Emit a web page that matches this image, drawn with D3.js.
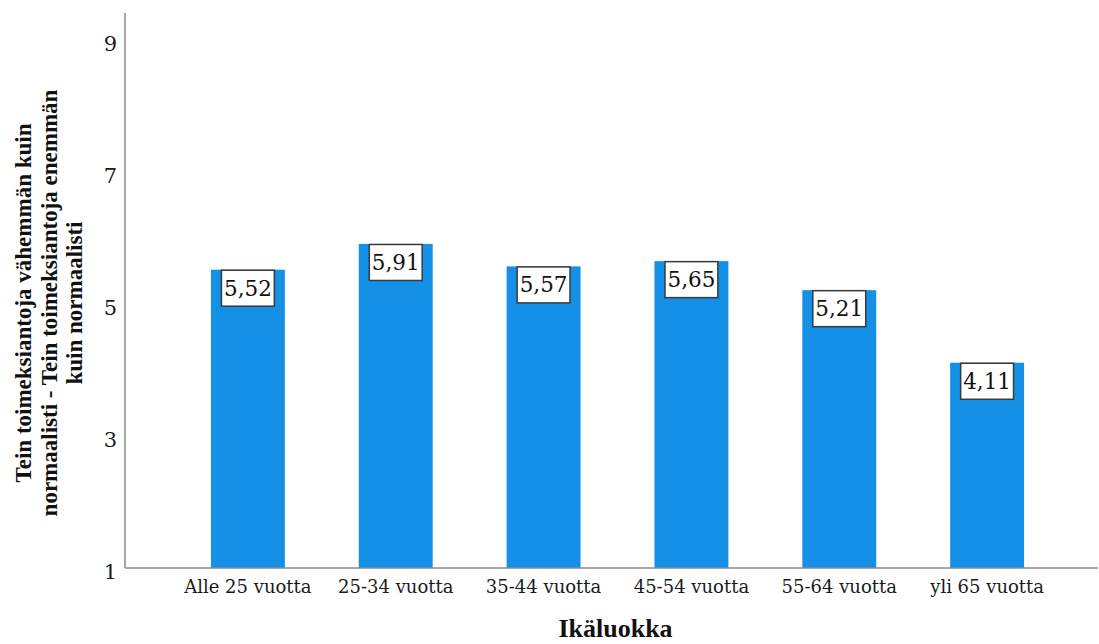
<!DOCTYPE html>
<html>
<head>
<meta charset="utf-8">
<script src="https://cdn.jsdelivr.net/npm/d3@7"></script>
<style>
  html, body { margin: 0; padding: 0; background: #ffffff; }
  svg { display: block; }
</style>
</head>
<body>
<svg id="chart" width="1099" height="644"></svg>
<script>
// Age groups and their mean scores
const categories = ["Alle 25 vuotta", "25-34 vuotta", "35-44 vuotta", "45-54 vuotta", "55-64 vuotta", "yli 65 vuotta"];
const values = [5.52, 5.91, 5.57, 5.65, 5.21, 4.11];
const yTicks = [1, 3, 5, 7, 9];
const yTitleLines = ["Tein toimeksiantoja vähemmän kuin", "normaalisti - Tein toimeksiantoja enemmän", "kuin normaalisti"];
const xTitle = "Ikäluokka";

const svg = d3.select("#chart");
const plotLeft = 125, plotRight = 1098, plotTop = 13, plotBottom = 568;

const fi = d3.formatLocale({ decimal: ",", thousands: " ", grouping: [3], currency: ["", " €"] });
const fmt = fi.format(".2f");

const x = d3.scaleBand()
  .domain(categories)
  .range([137, plotRight])
  .paddingInner(0.5)
  .paddingOuter(0.5);

const y = d3.scaleLinear()
  .domain([1, 9.41])
  .range([plotBottom, plotTop]);

// Bars
svg.append("g")
  .selectAll("rect")
  .data(values)
  .join("rect")
  .attr("x", (d, i) => x(categories[i]))
  .attr("y", d => y(d))
  .attr("width", x.bandwidth())
  .attr("height", d => y(1) - y(d))
  .attr("fill", "#1490e6");

// Axis lines
svg.append("line")
  .attr("x1", plotLeft).attr("x2", plotLeft)
  .attr("y1", plotTop).attr("y2", plotBottom)
  .attr("stroke", "#8a8a8a").attr("stroke-width", 1.5);
svg.append("line")
  .attr("x1", plotLeft).attr("x2", plotRight)
  .attr("y1", plotBottom).attr("y2", plotBottom)
  .attr("stroke", "#8a8a8a").attr("stroke-width", 1.5);

// Y tick labels
const yAxis = d3.axisLeft(y).tickValues(yTicks).tickSize(0).tickPadding(8).tickFormat(d3.format("d"));
const gy = svg.append("g").attr("transform", `translate(${plotLeft},0)`).call(yAxis);
gy.select(".domain").remove();
gy.selectAll("text")
  .attr("font-family", "DejaVu Serif")
  .attr("font-size", 21)
  .attr("fill", "#1a1a1a")
  .attr("dy", "0.48em");

// X tick labels
const xAxis = d3.axisBottom(x).tickSize(0).tickPadding(0);
const gx = svg.append("g").attr("transform", `translate(0,${plotBottom})`).call(xAxis);
gx.select(".domain").remove();
gx.selectAll("text")
  .attr("font-family", "DejaVu Serif")
  .attr("font-size", 18)
  .attr("fill", "#1a1a1a")
  .attr("y", 25)
  .attr("dy", 0);

// Value labels in boxed tags at the top of each bar
const labels = svg.append("g")
  .selectAll("g")
  .data(values)
  .join("g")
  .attr("transform", (d, i) => `translate(${x(categories[i]) + x.bandwidth() / 2},${y(d)})`);

labels.each(function(d) {
  const g = d3.select(this);
  const t = g.append("text")
    .attr("text-anchor", "middle")
    .attr("font-family", "DejaVu Serif")
    .attr("font-size", 21.5)
    .attr("fill", "#111")
    .attr("y", 26)
    .text(fmt(d));
  const w = t.node().getComputedTextLength() + 5;
  g.insert("rect", "text")
    .attr("x", -w / 2)
    .attr("y", 0.5)
    .attr("width", w)
    .attr("height", 36)
    .attr("fill", "#ffffff")
    .attr("stroke", "#3a3a3a")
    .attr("stroke-width", 1.5);
});

// Y axis title
const yTitle = svg.append("text")
  .attr("transform", "rotate(-90)")
  .attr("text-anchor", "middle")
  .attr("font-family", "Liberation Serif")
  .attr("font-weight", "bold")
  .attr("font-size", 23)
  .attr("fill", "#111");
yTitle.selectAll("tspan")
  .data(yTitleLines)
  .join("tspan")
  .attr("x", -303)
  .attr("y", (d, i) => 31 + i * 25.5)
  .text(d => d);

// X axis title
svg.append("text")
  .attr("x", (plotLeft + plotRight) / 2 + 4)
  .attr("y", 637)
  .attr("text-anchor", "middle")
  .attr("font-family", "Liberation Serif")
  .attr("font-weight", "bold")
  .attr("font-size", 26)
  .attr("fill", "#111")
  .text(xTitle);
</script>
</body>
</html>
